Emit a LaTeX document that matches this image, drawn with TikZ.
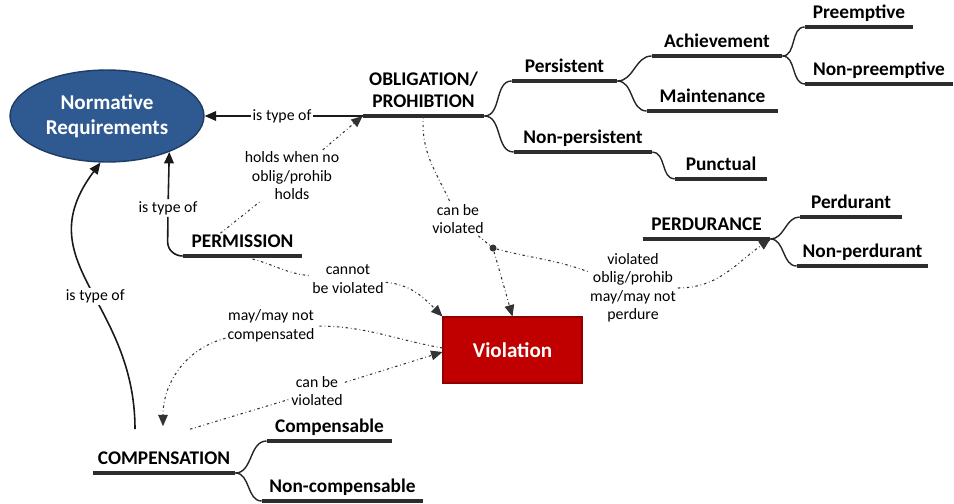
\documentclass[tikz,border=0pt]{standalone}
\usepackage{fontspec}
\setmainfont{Carlito}
\usetikzlibrary{shapes.geometric,arrows.meta,calc}

\definecolor{normblue}{RGB}{46,90,145}
\definecolor{normedge}{RGB}{30,60,100}
\definecolor{violred}{RGB}{192,0,0}
\definecolor{violedge}{RGB}{145,0,0}
\definecolor{barcol}{RGB}{45,45,45}

\begin{document}
\begin{tikzpicture}[x=0.02cm, y=-0.02cm, >={Triangle[length=6.5pt,width=5.5pt]},
  topic/.style={anchor=south, inner xsep=0pt, inner ysep=2pt, text depth=2.5pt,
    font=\fontsize{11}{12.5}\selectfont\bfseries, align=center},
  lbl/.style={fill=white, inner sep=1pt, text=black,
    font=\fontsize{9}{10.5}\selectfont, align=center},
  bar/.style={line width=2.8pt, barcol},
  branch/.style={line width=0.8pt, black!85},
  typeof/.style={->, line width=0.9pt, black!90},
  dotlink/.style={line width=0.6pt, black!80,
    dash pattern=on 1.4pt off 1.6pt on 0.4pt off 1.6pt}]
  % canvas in pixels of the 954 x 504 layout, y downwards
  \useasboundingbox (0,0) rectangle (954,504);

  % ---------------- main concepts ----------------
  \node[ellipse, fill=normblue, draw=normedge, line width=0.8pt, inner sep=0pt,
    minimum width=3.88cm, minimum height=1.84cm, text=white, align=center,
    font=\fontsize{12}{14}\selectfont\bfseries] (norm) at (107,116) {Normative\\Requirements};
  \node[rectangle, fill=violred, draw=violedge, line width=0.6pt,
    minimum width=2.78cm, minimum height=1.32cm, text=white,
    font=\fontsize{12}{14}\selectfont\bfseries] (viol) at (512.5,350) {Violation};

  % ---------------- topics (text on a bar) ----------------
  \node[topic, minimum width=2.42cm] (obl)    at (423.5,116) {OBLIGATION/\\PROHIBTION};
  \node[topic, minimum width=2.10cm] (pers)   at (564.5,81)  {Persistent};
  \node[topic, minimum width=2.76cm] (npers)  at (583,152)   {Non-persistent};
  \node[topic, minimum width=2.60cm] (ach)    at (717,56)    {Achievement};
  \node[topic, minimum width=2.62cm] (maint)  at (712.5,111) {Maintenance};
  \node[topic, minimum width=1.84cm] (punct)  at (721,179)   {Punctual};
  \node[topic, minimum width=2.16cm] (preem)  at (859,27)    {Preemptive};
  \node[topic, minimum width=2.94cm] (npreem) at (879,84)    {Non-preemptive};
  \node[topic, minimum width=2.54cm] (perdce) at (706.5,239) {PERDURANCE};
  \node[topic, minimum width=2.04cm] (perdt)  at (851,217)   {Perdurant};
  \node[topic, minimum width=2.62cm] (nperdt) at (862.5,266) {Non-perdurant};
  \node[topic, minimum width=2.38cm] (perm)   at (242.5,256) {PERMISSION};
  \node[topic, minimum width=2.84cm] (comp)   at (164,473)   {COMPENSATION};
  \node[topic, minimum width=2.50cm] (compb)  at (329.5,441) {Compensable};
  \node[topic, minimum width=3.22cm] (ncomp)  at (342.5,501) {Non-compensable};

  % branches first, bars on top
  \foreach \a/\b in {obl/pers, obl/npers, pers/ach, pers/maint, ach/preem, ach/npreem,
                     npers/punct, perdce/perdt, perdce/nperdt, comp/compb, comp/ncomp}
    \draw[branch] (\a.south east) to[out=0,in=180] (\b.south west);
  \foreach \n in {obl,pers,npers,ach,maint,punct,preem,npreem,perdce,perdt,nperdt,perm,comp,compb,ncomp}
    \draw[bar] (\n.south west) -- (\n.south east);

  % ---------------- is type of ----------------
  \node[lbl] (tobl)  at (282,116) {is type of};
  \node[lbl] (tperm) at (168,208) {is type of};
  \draw[typeof] (obl.south west) -- (tobl) -- (norm);
  \draw[typeof] (perm.south west) to[out=180,in=-90] ($(perm.south west)+(-15,-14)$)
    -- (tperm) -- (norm.-30);
  \draw[typeof] ($(comp.north)+(-29,-19)$) .. controls +(0,-130) and +(-75,100) ..
    node[lbl, pos=0.45] (tcomp) {is type of} (norm.-98);

  % ---------------- dotted relations ----------------
  \node[lbl] (holds)  at (292,176) {holds when no\\oblig/prohib\\holds};
  \node[lbl] (cbv)    at (458,219) {can be\\violated};
  \node[lbl] (perd)   at (633,288) {violated\\oblig/prohib\\may/may not\\perdure};
  \node[lbl] (cannot) at (348,279) {cannot\\be violated};
  \node[lbl] (mayc)   at (271,326) {may/may not\\compensated};
  \node[lbl] (cbv2)   at (317,391) {can be\\violated};
  \node[circle, fill=black!80, inner sep=0pt, minimum size=0.14cm] (hub) at (493,248) {};

  \draw[dotlink,->] ($(perm.north)+(-22,2)$) -- (holds) -- (obl.south west);
  \draw[dotlink] (obl.south) to[out=-95,in=115] (cbv) -- (hub);
  \draw[dotlink,->] (hub) -- (viol.north);
  \draw[dotlink,->] (hub) to[out=-15,in=160] (perd) to[out=0,in=215] (perdce.south east);
  \draw[dotlink,->] ($(perm.south)+(10,3)$) to[out=-15,in=175] (cannot)
    to[out=-5,in=135] (viol.north west);
  \draw[dotlink,->] ($(viol.west)+(0,-2)$) to[out=170,in=0] (mayc)
    to[out=195,in=90] ($(comp.north)+(-1,-22)$);
  \draw[dotlink,->] ($(comp.north)+(26,-19)$) -- (cbv2) -- ($(viol.west)+(0,2)$);
\end{tikzpicture}
\end{document}
